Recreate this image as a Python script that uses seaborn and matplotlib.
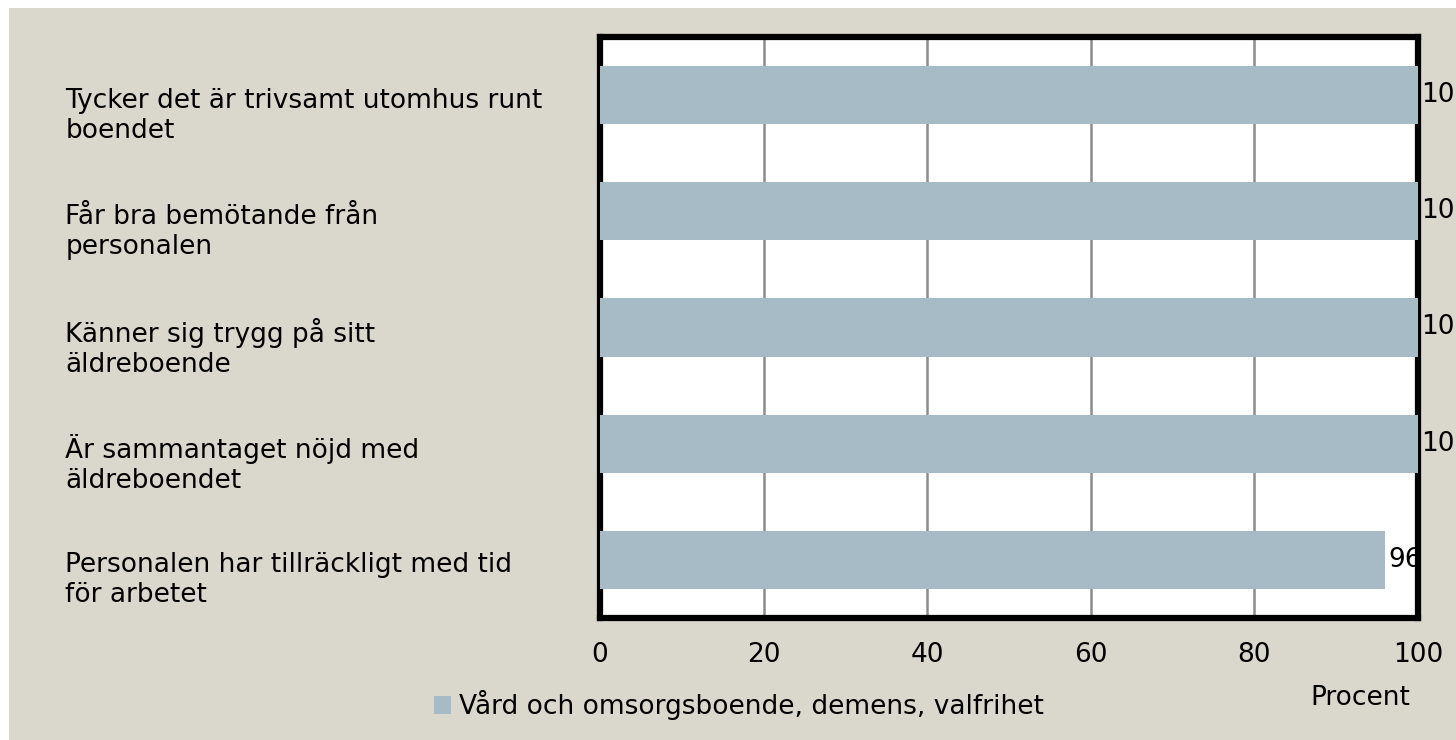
import matplotlib
matplotlib.use('Agg')
import matplotlib.pyplot as plt
import matplotlib.transforms as mtransforms
from matplotlib.patches import Rectangle
import seaborn as sns
import pandas as pd

sns.set_style('white')
plt.rcParams['font.family'] = ['DejaVu Sans']
plt.rcParams['text.color'] = 'black'
plt.rcParams['xtick.color'] = 'black'
plt.rcParams['ytick.color'] = 'black'
plt.rcParams['axes.labelcolor'] = 'black'

fragor = [
    'Tycker det är trivsamt utomhus runt\nboendet',
    'Får bra bemötande från\npersonalen',
    'Känner sig trygg på sitt\näldreboende',
    'Är sammantaget nöjd med\näldreboendet',
    'Personalen har tillräckligt med tid\nför arbetet',
]
procent = [100, 100, 100, 100, 96]
serie = 'Vård och omsorgsboende, demens, valfrihet'
xticks = [0, 20, 40, 60, 80, 100]

df = pd.DataFrame({'Fråga': fragor, 'Procent': procent})

bg = '#dad8cc'
bar_color = '#a7bbc6'
fs = 19

fig = plt.figure(figsize=(14.56, 7.40), dpi=100)
fig.patch.set_facecolor('white')
fig.patches.append(Rectangle((9 / 1456, 0), 1, 1 - 8 / 740, transform=fig.transFigure,
                             facecolor=bg, edgecolor='none', zorder=-10))

ax = fig.add_axes([600 / 1456, 1 - 618 / 740, 818 / 1456, 581 / 740])
ax.set_facecolor('white')

sns.barplot(data=df, x='Procent', y='Fråga', color=bar_color, width=0.5,
            saturation=1, ax=ax, label=serie, zorder=3, linewidth=0)

ax.set_xlim(0, 100)
ax.set_ylim(4.5, -0.5)
ax.set_xticks(xticks)
ax.grid(axis='x', color='#8c8c8c', linewidth=1.8, zorder=0)
ax.set_axisbelow(True)
for s in ax.spines.values():
    s.set_visible(True)
    s.set_color('black')
    s.set_linewidth(4.5)
    s.set_zorder(2)

ax.tick_params(axis='x', length=0, labelsize=fs, pad=17)
ax.tick_params(axis='y', length=0, labelsize=fs, pad=385)
for lbl in ax.get_yticklabels():
    lbl.set_ha('left')
    lbl.set_linespacing(1.2)
    lbl.set_transform(lbl.get_transform() +
                      mtransforms.ScaledTranslation(0, -0.155, fig.dpi_scale_trans))

ax.set_ylabel('')
ax.set_xlabel('Procent', fontsize=fs)
ax.xaxis.set_label_coords(0.929, -0.115)

for c in ax.containers:
    ax.bar_label(c, fmt='%g', padding=2, fontsize=fs, clip_on=False)

ax.legend().remove()
fig.legend(loc='center left', bbox_to_anchor=(423 / 1456, 1 - 705 / 740), frameon=False,
           fontsize=fs, handlelength=0.65, handleheight=0.65, handletextpad=0.3,
           borderaxespad=0)

fig.savefig('out.png', dpi=100, facecolor=fig.get_facecolor())
